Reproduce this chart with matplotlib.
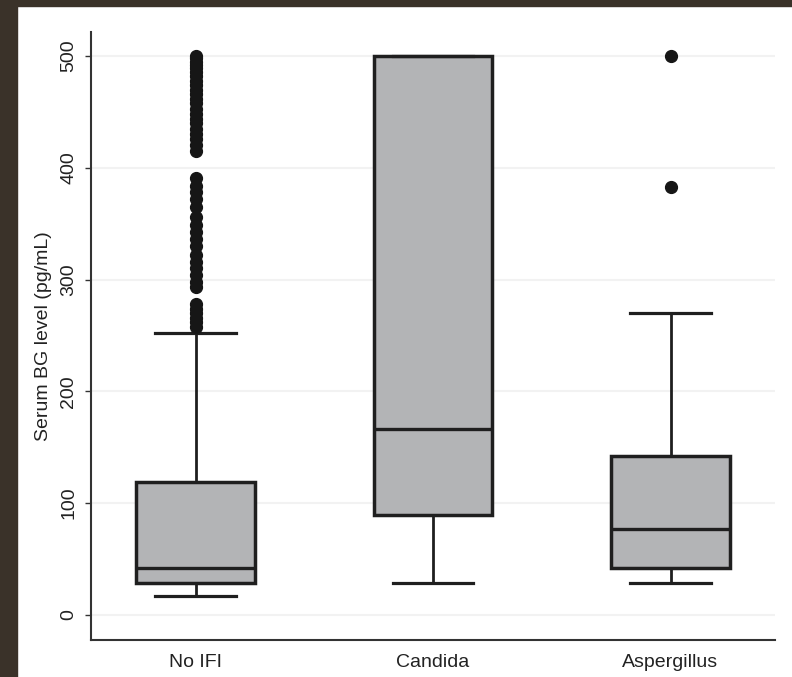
import numpy as np
import matplotlib
matplotlib.use("Agg")
import matplotlib.pyplot as plt
from matplotlib.patches import Rectangle

plt.rcParams['font.family'] = ['Liberation Sans', 'DejaVu Sans']

# box plot summary values (pg/mL)
groups = ["No IFI", "Candida", "Aspergillus"]
whislo = [17, 29, 29]
q1 = [29, 89, 42]
med = [42, 166, 77]
q3 = [119, 500, 142]
whishi = [252, 500, 270]

noifi_out = [500, 498, 495, 492, 489, 486, 482, 478, 474, 470, 466, 462, 458,
             453, 448, 444, 440, 435, 430, 426, 420, 415,
             391, 384, 378, 372, 365, 356, 349, 343, 336, 330, 322, 316, 310,
             304, 298, 293,
             278, 274, 270, 266, 262, 258]
candida_out = []
asperg_out = [500, 383]
fliers = [noifi_out, candida_out, asperg_out]

yticks = [0, 100, 200, 300, 400, 500]

W, H = 792, 677
fig = plt.figure(figsize=(W / 100, H / 100), dpi=100)
fig.patch.set_facecolor('white')

# dark frame around the slide
dark = '#3a3229'
fig.add_artist(Rectangle((0, 0), 17 / W, 1, transform=fig.transFigure,
                         color=dark, zorder=-5))
fig.add_artist(Rectangle((0, 1 - 6 / H), 1, 6 / H, transform=fig.transFigure,
                         color=dark, zorder=-5))

ax = fig.add_axes([91 / W, 1 - 640 / H, (775 - 91) / W, (640 - 32) / H])

stats = []
for i, g in enumerate(groups):
    stats.append(dict(label=g, whislo=whislo[i], q1=q1[i], med=med[i],
                      q3=q3[i], whishi=whishi[i], fliers=np.array(fliers[i])))

ink = '#1f1f1f'
ax.bxp(stats, positions=[1, 2, 3], widths=0.5, capwidths=0.34,
       patch_artist=True,
       boxprops=dict(facecolor='#b3b4b6', edgecolor=ink, linewidth=2.5),
       medianprops=dict(color=ink, linewidth=2.4),
       whiskerprops=dict(color=ink, linewidth=2.0),
       capprops=dict(color=ink, linewidth=2.3),
       flierprops=dict(marker='o', markerfacecolor='#161616',
                       markeredgecolor='#161616', markersize=8.5),
       zorder=3)

ax.set_xlim(0.56, 3.44)
ax.set_ylim(-22.4, 521.5)
ax.set_yticks(yticks)
ax.set_yticklabels([str(v) for v in yticks], rotation=90, va='center')
ax.yaxis.grid(True, color='#f2f2f2', linewidth=1.5)
ax.set_axisbelow(True)

for s in ['top', 'right']:
    ax.spines[s].set_visible(False)
for s in ['left', 'bottom']:
    ax.spines[s].set_linewidth(1.5)
    ax.spines[s].set_color('#333333')

ax.tick_params(axis='y', length=4, width=1, pad=6, labelsize=14,
               colors='#333333', labelcolor='#222222')
ax.tick_params(axis='x', length=0, pad=10, labelsize=14, labelcolor='#222222')

ax.set_ylabel("Serum BG level (pg/mL)", fontsize=14, color='#222222')
ax.yaxis.set_label_coords(-0.057, 0.5)

fig.savefig('out.png', dpi=100, facecolor=fig.get_facecolor())
